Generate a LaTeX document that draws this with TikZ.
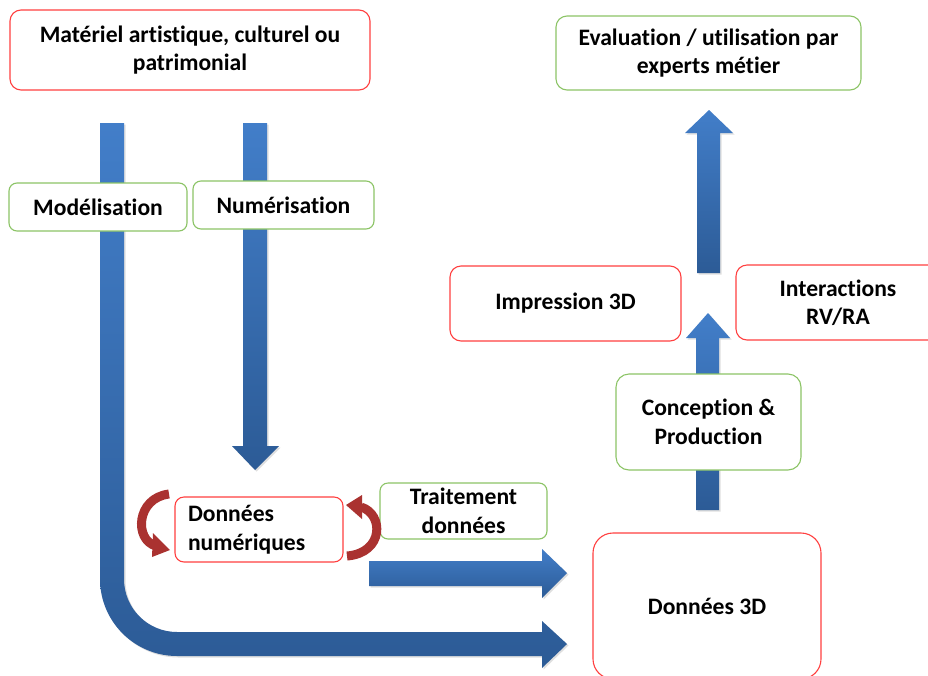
\documentclass[tikz,border=0pt]{standalone}
\usepackage{fontspec}
\setmainfont{Carlito}[Ligatures={NoCommon}]
\usetikzlibrary{arrows.meta,shadows}
\definecolor{bluetop}{RGB}{66,126,201}
\definecolor{bluebot}{RGB}{44,91,150}
\definecolor{redline}{RGB}{255,64,64}
\definecolor{greenline}{RGB}{140,196,102}
\definecolor{darkred}{RGB}{170,50,48}
\tikzset{
  box/.style={draw, line width=1.1pt, rounded corners=11pt, fill=white, align=center,
    font=\fontsize{23.6}{28.5}\selectfont\bfseries, inner sep=0pt},
  redbox/.style={box, draw=redline},
  greenbox/.style={box, draw=greenline},
  blockarrow/.style={top color=bluetop, bottom color=bluebot, draw=none,
    drop shadow={opacity=0.25, shadow xshift=1.5pt, shadow yshift=-1.5pt}},
  cyclearrow/.style={draw=darkred, line width=9pt},
  cyclehead/.style={fill=darkred, draw=none}
}
\begin{document}
\begin{tikzpicture}[x=1pt,y=-1pt]
\clip (0,0) rectangle (928,675);
\fill[white] (0,0) rectangle (928,675);

% ---- block arrows (drawn first, under the boxes) ----
% Modelisation: long bent arrow to Donnees 3D
\path[blockarrow] (100,123) -- (124,123) -- (124,579)
  .. controls (124,608.3) and (147.7,632) .. (177,632)
  -- (542,632) -- (542,621) -- (567,644) -- (542,668) -- (542,656) -- (177,656)
  .. controls (134.5,656) and (100,621.5) .. (100,579) -- cycle;
% Numerisation: down arrow to Donnees numeriques
\path[blockarrow] (243,123) -- (267,123) -- (267,446) -- (279,446) -- (255,470)
  -- (232,446) -- (243,446) -- cycle;
% Traitement: arrow to Donnees 3D
\path[blockarrow] (369,561) -- (542,561) -- (542,549) -- (567,573) -- (542,598)
  -- (542,586) -- (369,586) -- cycle;
% Donnees 3D -> Conception -> up
\path[blockarrow] (696,510) -- (696,338) -- (686,338) -- (708,313) -- (730,338)
  -- (719,338) -- (719,510) -- cycle;
% Up to Evaluation
\path[blockarrow] (697,273) -- (697,133) -- (685,133) -- (709,110) -- (733,133)
  -- (720,133) -- (720,273) -- cycle;

% ---- boxes ----
\node[redbox, minimum width=360pt, minimum height=80pt] (mat) at (190,50)
  {Matériel artistique, culturel ou\\patrimonial};
\node[greenbox, minimum width=178pt, minimum height=48pt, rounded corners=8pt] (mod) at (98,207) {Modélisation};
\node[greenbox, minimum width=181pt, minimum height=48pt, rounded corners=8pt] (num) at (283.5,205) {Numérisation};
\node[redbox, minimum width=168pt, minimum height=65pt, rounded corners=9pt, align=left,
  text width=142pt] (dn) at (259,529.5) {Données\\numériques};
\node[greenbox, minimum width=167pt, minimum height=56pt, rounded corners=8pt] (tr) at (463.5,511)
  {Traitement\\données};
\node[redbox, minimum width=228pt, minimum height=146pt, rounded corners=20pt] (d3) at (707,606) {Données 3D};
\node[greenbox, minimum width=185pt, minimum height=96pt, rounded corners=13pt] (cp) at (708.5,422)
  {Conception \&\\Production};
\node[redbox, minimum width=231pt, minimum height=75pt] (imp) at (565.5,303.5) {Impression 3D};
\node[redbox, minimum width=204pt, minimum height=75pt] (ia) at (838,302.5) {Interactions\\RV/RA};
\node[greenbox, minimum width=305pt, minimum height=74pt] (ev) at (708.5,53)
  {Evaluation / utilisation par\\experts métier};

% ---- cycle arrows around Donnees numeriques ----
\coordinate (la) at (169,494);
\coordinate (lb) at (156,546);
\draw[cyclearrow] (la) .. controls (136,498) and (134,540) .. (lb);
\fill[cyclehead] (153,533) -- (170,550) -- (152,557) -- cycle;
\coordinate (ra) at (347,556);
\coordinate (rb) at (361,507);
\draw[cyclearrow] (ra) .. controls (384,553) and (384,514) .. (rb);
\fill[cyclehead] (362,495) -- (346,505) -- (362,519) -- cycle;
\end{tikzpicture}
\end{document}
